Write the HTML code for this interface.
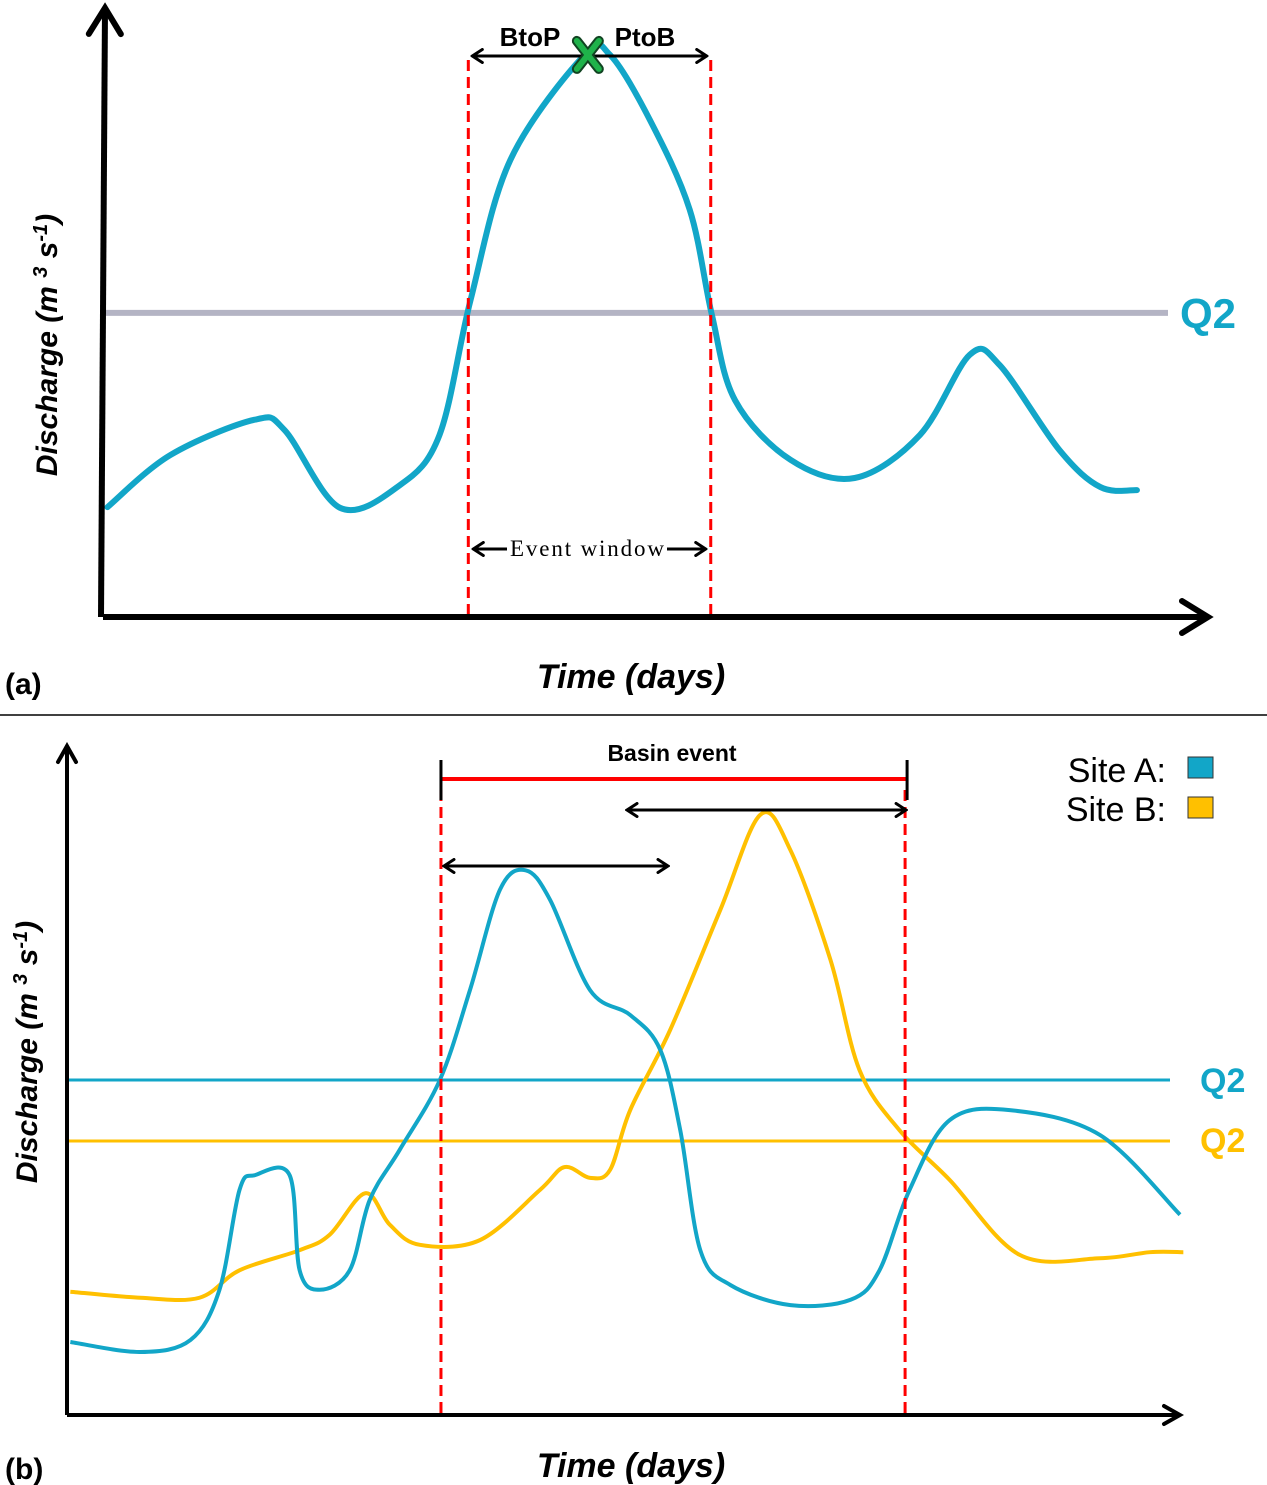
<!DOCTYPE html>
<html><head><meta charset="utf-8"><style>
body{margin:0;background:#fff}
svg{display:block;font-family:"Liberation Sans",sans-serif}
</style></head><body>
<svg id="s" width="1267" height="1485" viewBox="0 0 1267 1485">
<defs>
<marker id="ah" markerWidth="14" markerHeight="16" refX="12" refY="8" orient="auto-start-reverse" markerUnits="userSpaceOnUse"><path d="M2,1.5 L12,8 L2,14.5" fill="none" stroke="#000" stroke-width="3" stroke-linecap="round"/></marker>
<marker id="mid" markerWidth="24" markerHeight="24" refX="20" refY="12" orient="auto" markerUnits="userSpaceOnUse"><path d="M4,3 L20,12 L4,21" fill="none" stroke="#000" stroke-width="4" stroke-linecap="round"/></marker>
<marker id="big" markerWidth="40" markerHeight="40" refX="34" refY="20" orient="auto" markerUnits="userSpaceOnUse"><path d="M8,4 L34,20 L8,36" fill="none" stroke="#000" stroke-width="6" stroke-linecap="round"/></marker>
</defs>
<g id="pa"></g>
<line x1="0" y1="715" x2="1267" y2="715" stroke="#000" stroke-width="1.5"/>
<g id="pb"></g>
</svg>
<script>
// Panel A data
const aTime=[0.4,6.1,13.7,16.4,21.4,26.8,30.4,33.2,36.8,43.5,45.8,49.4,53.0,55.0,57.1,62.1,67.9,73.8,78.3,81.0,86.4,90.1,93.4];
const aQ=[18.1,26.7,32.5,30.8,18.0,21.7,30.0,52.2,75.3,92.6,92.6,81.9,67.1,49.8,35.7,25.9,22.9,30.0,43.2,41.5,27.5,21.4,20.9];
const aQ2=50.1;
const aEvent=[33.0,54.9];
const aPeak=[43.8,92.6];
// Panel B data
const bTimeA=[0.3,6.6,11.1,13.7,15.5,16.9,20.0,20.9,22.7,25.4,27.2,29.9,33.5,36.2,38.9,41.2,43.4,47.0,50.6,53.3,55.1,56.9,59.6,65.0,70.4,73.0,75.7,79.3,84.7,92.8,100];
const bQA=[10.9,9.4,11.2,18.7,33.6,35.8,35.8,21.6,18.7,21.6,32.1,39.6,50.0,63.4,78.4,81.3,76.9,63.4,59.7,54.5,42.5,24.6,19.4,16.4,17.2,21.6,33.6,44.0,45.5,41.8,29.9];
const bTimeB=[0.3,6.6,11.9,15.5,20.9,23.6,26.8,29.0,31.7,37.1,42.5,44.7,47.0,48.8,50.6,54.2,58.7,62.3,65.0,68.6,71.2,74.8,79.3,85.6,92.8,97.3,100.3];
const bQB=[18.4,17.5,17.5,21.6,24.6,26.9,33.1,28.4,25.4,26.1,33.6,37.0,35.4,36.6,45.5,57.5,75.4,89.6,84.3,67.9,51.5,42.5,35.1,23.9,23.4,24.3,24.3];
const bQ2A=50.0, bQ2B=40.9;
const bEvent=[33.6,75.3];

const NS="http://www.w3.org/2000/svg";
function mk(parent,tag,attrs,text){const e=document.createElementNS(NS,tag);for(const k in attrs)e.setAttribute(k,attrs[k]);if(text!=null)e.textContent=text;parent.appendChild(e);return e;}
function smooth(pts){let d="M"+pts[0][0]+","+pts[0][1];for(let i=0;i<pts.length-1;i++){const p0=pts[i-1]||pts[i],p1=pts[i],p2=pts[i+1],p3=pts[i+2]||p2;const c1=[p1[0]+(p2[0]-p0[0])/6,p1[1]+(p2[1]-p0[1])/6],c2=[p2[0]-(p3[0]-p1[0])/6,p2[1]-(p3[1]-p1[1])/6];d+=" C"+c1+" "+c2+" "+p2;}return d;}

// ---- Panel A ----
const pa=document.getElementById('pa');
const ax=t=>103+t*11.07, ay=q=>617-q*6.07;
let e;
e=mk(pa,'line',{x1:ax(0),y1:ay(aQ2),x2:1168,y2:ay(aQ2),stroke:'#b4b4c4','stroke-width':6});


e=mk(pa,'path',{d:smooth(aTime.map((t,i)=>[ax(t),ay(aQ[i])])),fill:'none',stroke:'#12a6c8','stroke-width':6,'stroke-linecap':'round'});


aEvent.forEach(t=>{e=mk(pa,'line',{x1:ax(t),y1:60,x2:ax(t),y2:615,stroke:'#f00','stroke-width':3,'stroke-dasharray':'11,6'});

});
e=mk(pa,'line',{x1:103,y1:617,x2:1208,y2:617,stroke:'#000','stroke-width':6,'marker-end':'url(#big)'});


e=mk(pa,'line',{x1:101,y1:617,x2:105,y2:8,stroke:'#000','stroke-width':6,'marker-end':'url(#big)'});


e=mk(pa,'line',{x1:ax(aEvent[0])+4,y1:56,x2:ax(aEvent[1])-4,y2:56,stroke:'#000','stroke-width':3,'marker-start':'url(#ah)','marker-end':'url(#ah)'});


const px=ax(aPeak[0]),py=ay(aPeak[1]);
e=mk(pa,'path',{d:`M${px-11},${py-14} L${px+11},${py+14} M${px+11},${py-14} L${px-11},${py+14}`,stroke:'#114422',fill:'none','stroke-width':10,'stroke-linecap':'round'});


e=mk(pa,'path',{d:`M${px-11},${py-14} L${px+11},${py+14} M${px+11},${py-14} L${px-11},${py+14}`,stroke:'#1fb24a',fill:'none','stroke-width':6,'stroke-linecap':'round'});


e=mk(pa,'text',{x:530,y:46,'font-size':26,'font-weight':'bold','text-anchor':'middle'},'BtoP');


e=mk(pa,'text',{x:645,y:46,'font-size':26,'font-weight':'bold','text-anchor':'middle'},'PtoB');


e=mk(pa,'line',{x1:ax(aEvent[0])+5,y1:549,x2:ax(aEvent[1])-5,y2:549,stroke:'#000','stroke-width':3,'marker-start':'url(#ah)','marker-end':'url(#ah)'});


e=mk(pa,'rect',{x:507,y:535,width:160,height:26,fill:'#fff'});


e=mk(pa,'text',{x:587,y:556,'font-size':23,'text-anchor':'middle','font-family':'Liberation Serif, serif',textLength:154},'Event window');


e=mk(pa,'text',{x:1180,y:328,'font-size':42,'font-weight':'bold',fill:'#12a6c8'},'Q2');


e=mk(pa,'text',{x:631,y:688,'font-size':34,'font-weight':'bold','font-style':'italic','text-anchor':'middle'},'Time (days)');


e=mk(pa,'text',{x:5,y:694,'font-size':30,'font-weight':'bold'},'(a)');


e=mk(pa,'text',{transform:'translate(57,345) rotate(-90)','font-size':30,'font-weight':'bold','font-style':'italic','text-anchor':'middle'});
e.innerHTML='Discharge (m <tspan dy="-10" font-size="20">3</tspan><tspan dy="10"> s</tspan><tspan dy="-10" font-size="20">-1</tspan><tspan dy="10">)</tspan>';



// ---- Panel B ----
const pb=document.getElementById('pb');
const bx=t=>67+t*11.13, by=q=>1415-q*6.7;
e=mk(pb,'line',{x1:bx(0),y1:by(bQ2A),x2:1170,y2:by(bQ2A),stroke:'#12a6c8','stroke-width':3});


e=mk(pb,'line',{x1:bx(0),y1:by(bQ2B),x2:1170,y2:by(bQ2B),stroke:'#ffc000','stroke-width':3});


e=mk(pb,'path',{d:smooth(bTimeB.map((t,i)=>[bx(t),by(bQB[i])])),fill:'none',stroke:'#ffc000','stroke-width':4});


e=mk(pb,'path',{d:smooth(bTimeA.map((t,i)=>[bx(t),by(bQA[i])])),fill:'none',stroke:'#12a6c8','stroke-width':4});


bEvent.forEach(t=>{e=mk(pb,'line',{x1:bx(t),y1:790,x2:bx(t),y2:1413,stroke:'#f00','stroke-width':3,'stroke-dasharray':'11,6'});

});
e=mk(pb,'line',{x1:bx(bEvent[0]),y1:779,x2:bx(bEvent[1])+2,y2:779,stroke:'#f00','stroke-width':4});


[bx(bEvent[0]),bx(bEvent[1])+2].forEach(x=>{e=mk(pb,'line',{x1:x,y1:760,x2:x,y2:800,stroke:'#000','stroke-width':3});

});
e=mk(pb,'text',{x:672,y:761,'font-size':23,'font-weight':'bold','text-anchor':'middle'},'Basin event');


e=mk(pb,'line',{x1:bx(bEvent[0])+3,y1:866,x2:668,y2:866,stroke:'#000','stroke-width':3,'marker-start':'url(#ah)','marker-end':'url(#ah)'});


e=mk(pb,'line',{x1:627,y1:810,x2:bx(bEvent[1])+1,y2:810,stroke:'#000','stroke-width':3,'marker-start':'url(#ah)','marker-end':'url(#ah)'});


e=mk(pb,'line',{x1:67,y1:1415,x2:1180,y2:1415,stroke:'#000','stroke-width':4,'marker-end':'url(#mid)'});


e=mk(pb,'line',{x1:67,y1:1415,x2:67,y2:746,stroke:'#000','stroke-width':4,'marker-end':'url(#mid)'});


e=mk(pb,'text',{x:1200,y:1092,'font-size':34,'font-weight':'bold',fill:'#12a6c8'},'Q2');


e=mk(pb,'text',{x:1200,y:1152,'font-size':34,'font-weight':'bold',fill:'#ffc000'},'Q2');


e=mk(pb,'text',{x:1166,y:782,'font-size':34,'text-anchor':'end'},'Site A:');


e=mk(pb,'rect',{x:1188,y:757,width:25,height:21,fill:'#12a6c8',stroke:'#333','stroke-width':1});


e=mk(pb,'text',{x:1166,y:821,'font-size':34,'text-anchor':'end'},'Site B:');


e=mk(pb,'rect',{x:1188,y:797,width:25,height:21,fill:'#ffc000',stroke:'#333','stroke-width':1});


e=mk(pb,'text',{x:631,y:1477,'font-size':34,'font-weight':'bold','font-style':'italic','text-anchor':'middle'},'Time (days)');


e=mk(pb,'text',{x:5,y:1479,'font-size':30,'font-weight':'bold'},'(b)');


e=mk(pb,'text',{transform:'translate(37,1052) rotate(-90)','font-size':30,'font-weight':'bold','font-style':'italic','text-anchor':'middle'});
e.innerHTML='Discharge (m <tspan dy="-10" font-size="20">3</tspan><tspan dy="10"> s</tspan><tspan dy="-10" font-size="20">-1</tspan><tspan dy="10">)</tspan>';


</script>
</body></html>
